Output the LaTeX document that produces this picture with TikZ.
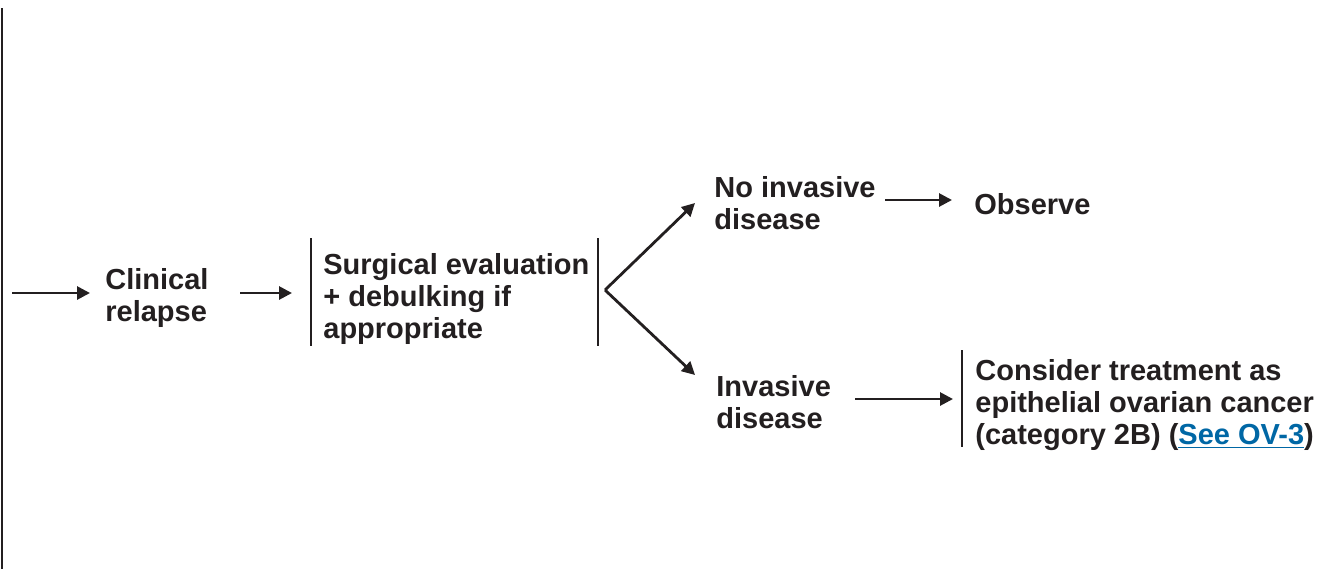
\documentclass[tikz,border=0pt]{standalone}
\usepackage{fontspec}
\setmainfont{Liberation Sans}
\usetikzlibrary{arrows.meta}
\definecolor{ink}{HTML}{231F20}
\definecolor{linkblue}{HTML}{0067A5}
\begin{document}
\begin{tikzpicture}[x=0.5pt,y=-0.5pt,
  txt/.style={font=\fontsize{14.5pt}{16pt}\selectfont\bfseries, text=ink, align=left, inner sep=0pt, anchor=north west},
  arr/.style={draw=ink, line width=1.4pt, -{Triangle[length=6.5pt,width=6.5pt]}},
  bar/.style={draw=ink, line width=1.4pt}]
\useasboundingbox (0,0) rectangle (1320,569);
\draw[bar] (2,8) -- (2,569);
\coordinate (start) at (12,293);
\node[txt] (clin) at (105,268) {Clinical\\relapse};
\node[txt] (surg) at (323,253) {Surgical evaluation\\+ debulking if\\appropriate};
\node[txt] (noinv) at (714,176) {No invasive\\disease};
\node[txt] (obs) at (974,193) {Observe};
\node[txt] (inv) at (716,375) {Invasive\\disease};
\node[txt] (cons) at (975,359) {Consider treatment as\\epithelial ovarian cancer\\(category 2B) ({\color{linkblue}\underline{See OV-3}})};
% bars
\coordinate (sbl1) at (311,238); \coordinate (sbl2) at (311,346);
\coordinate (sbr1) at (598,238); \coordinate (sbr2) at (598,346);
\coordinate (cb1) at (962,350); \coordinate (cb2) at (962,447);
\draw[bar] (sbl1) -- (sbl2);
\draw[bar] (sbr1) -- (sbr2);
\draw[bar] (cb1) -- (cb2);
% arrows
\draw[arr] (start) -- (90,293);
\draw[arr] (240,293) -- (292,293);
\coordinate (fork) at (605,290);
\draw[arr] (fork) -- (695,203);
\draw[arr] (fork) -- (695,375);
\draw[arr] (885,200) -- (952,200);
\draw[arr] (855,399) -- (953,399);
\end{tikzpicture}
\end{document}
